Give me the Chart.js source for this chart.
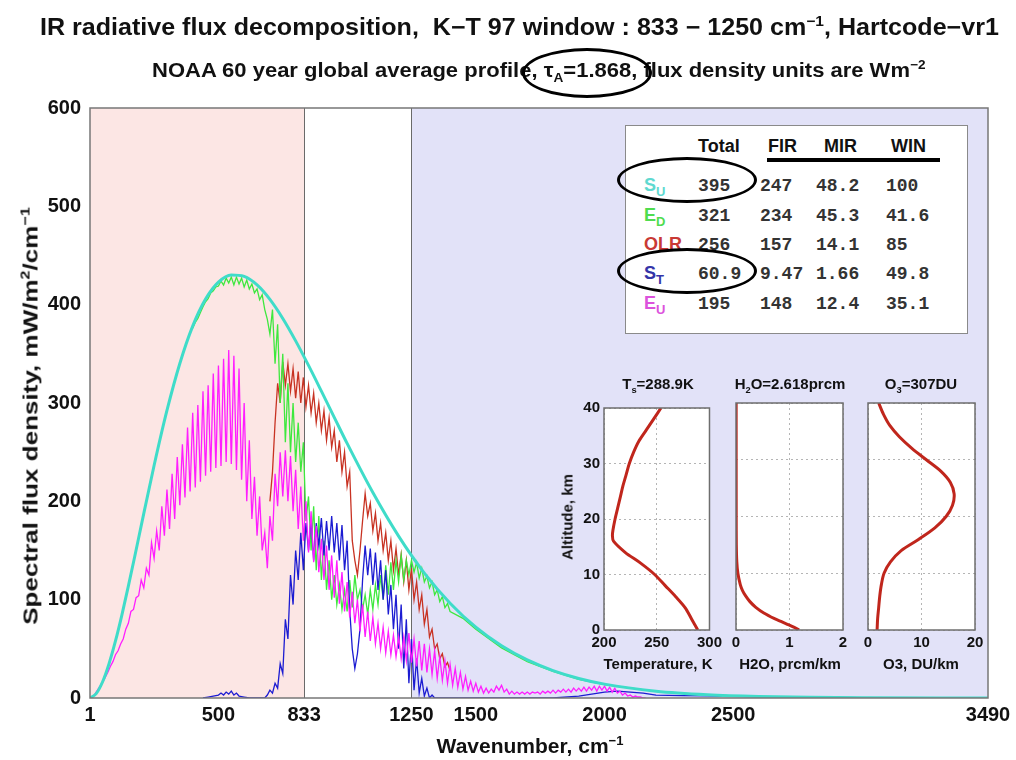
<!DOCTYPE html>
<html>
<head>
<meta charset="utf-8">
<title>IR radiative flux decomposition</title>
<script src="https://cdn.jsdelivr.net/npm/chart.js@4.4.1/dist/chart.umd.min.js"></script>
<style>
  body { margin: 0; background: #fff; }
  #wrap { position: relative; width: 1016px; height: 760px; overflow: hidden; font-family: "Liberation Sans", Arial, sans-serif; color: #111; }
  canvas { position: absolute; }
  .lbl { position: absolute; white-space: nowrap; font-weight: bold; line-height: 1; }
  .lbl sub, .lbl sup { font-size: 62%; line-height: 0; }
  .c { transform: translate(-50%, -50%); }
  #table { position: absolute; left: 625px; top: 125px; width: 341px; height: 207px; background: #fff; border: 1px solid #8a8a8a; }
  #table span { position: absolute; white-space: nowrap; line-height: 1; }
  .num { font-family: "Liberation Mono", "Courier New", monospace; font-size: 18px; font-weight: bold; color: #333; }
  .head { font-size: 18px; font-weight: bold; color: #111; }
  .oval { position: absolute; border: 3px solid #000; border-radius: 50%; box-sizing: border-box; }
</style>
</head>
<body>
<div id="wrap">
  <canvas id="main" width="1016" height="760" style="left:0;top:0"></canvas>

  <div class="lbl" style="left:40px;top:16px;font-size:23px;transform:scaleX(1.09);transform-origin:left center">IR radiative flux decomposition,&nbsp; K&minus;T 97 window : 833 &minus; 1250 cm<sup>&minus;1</sup>, Hartcode&minus;vr1</div>
  <div class="lbl" style="left:152px;top:60px;font-size:20px;transform:scaleX(1.1);transform-origin:left center">NOAA 60 year global average profile, &tau;<sub>A</sub>=1.868, flux density units are Wm<sup>&minus;2</sup></div>
  <div class="lbl" style="left:30px;top:416px;font-size:21px;transform:translate(-50%,-50%) rotate(-90deg) scaleX(1.24)">Spectral flux density, mW/m<sup>2</sup>/cm<sup>&minus;1</sup></div>
  <div class="lbl c" style="left:530px;top:745px;font-size:21px">Wavenumber, cm<sup>&minus;1</sup></div>

  <div id="table"></div>

  <canvas id="tempInset" width="162" height="259" style="left:564px;top:395px"></canvas>
  <canvas id="h2oInset" width="131" height="259" style="left:724px;top:395px"></canvas>
  <canvas id="o3Inset" width="135" height="259" style="left:856px;top:395px"></canvas>

  <div class="lbl c" style="left:658px;top:383px;font-size:15px">T<sub>s</sub>=288.9K</div>
  <div class="lbl c" style="left:790px;top:383px;font-size:15px">H<sub>2</sub>O=2.618prcm</div>
  <div class="lbl c" style="left:921px;top:383px;font-size:15px">O<sub>3</sub>=307DU</div>
  <div class="lbl c" style="left:658px;top:663px;font-size:15px">Temperature, K</div>
  <div class="lbl c" style="left:790px;top:663px;font-size:15px">H2O, prcm/km</div>
  <div class="lbl c" style="left:921px;top:663px;font-size:15px">O3, DU/km</div>
  <div class="lbl" style="left:567px;top:517px;font-size:15px;transform:translate(-50%,-50%) rotate(-90deg)">Altitude, km</div>

  <div class="oval" style="left:522px;top:48px;width:130px;height:50px"></div>
  <div class="oval" style="left:617px;top:157px;width:140px;height:46px"></div>
  <div class="oval" style="left:617px;top:248px;width:140px;height:46px"></div>
</div>

<script>
// Spectral grid, cm-1 (10 cm-1 step, 0 - 2600)
var waveGrid = [
  0, 10, 20, 30, 40, 50, 60, 70, 80, 90,
  100, 110, 120, 130, 140, 150, 160, 170, 180, 190,
  200, 210, 220, 230, 240, 250, 260, 270, 280, 290,
  300, 310, 320, 330, 340, 350, 360, 370, 380, 390,
  400, 410, 420, 430, 440, 450, 460, 470, 480, 490,
  500, 510, 520, 530, 540, 550, 560, 570, 580, 590,
  600, 610, 620, 630, 640, 650, 660, 670, 680, 690,
  700, 710, 720, 730, 740, 750, 760, 770, 780, 790,
  800, 810, 820, 830, 840, 850, 860, 870, 880, 890,
  900, 910, 920, 930, 940, 950, 960, 970, 980, 990,
  1000, 1010, 1020, 1030, 1040, 1050, 1060, 1070, 1080, 1090,
  1100, 1110, 1120, 1130, 1140, 1150, 1160, 1170, 1180, 1190,
  1200, 1210, 1220, 1230, 1240, 1250, 1260, 1270, 1280, 1290,
  1300, 1310, 1320, 1330, 1340, 1350, 1360, 1370, 1380, 1390,
  1400, 1410, 1420, 1430, 1440, 1450, 1460, 1470, 1480, 1490,
  1500, 1510, 1520, 1530, 1540, 1550, 1560, 1570, 1580, 1590,
  1600, 1610, 1620, 1630, 1640, 1650, 1660, 1670, 1680, 1690,
  1700, 1710, 1720, 1730, 1740, 1750, 1760, 1770, 1780, 1790,
  1800, 1810, 1820, 1830, 1840, 1850, 1860, 1870, 1880, 1890,
  1900, 1910, 1920, 1930, 1940, 1950, 1960, 1970, 1980, 1990,
  2000, 2010, 2020, 2030, 2040, 2050, 2060, 2070, 2080, 2090,
  2100, 2110, 2120, 2130, 2140, 2150, 2160, 2170, 2180, 2190,
  2200, 2210, 2220, 2230, 2240, 2250, 2260, 2270, 2280, 2290,
  2300, 2310, 2320, 2330, 2340, 2350, 2360, 2370, 2380, 2390,
  2400, 2410, 2420, 2430, 2440, 2450, 2460, 2470, 2480, 2490,
  2500, 2510, 2520, 2530, 2540, 2550, 2560, 2570, 2580, 2590,
  2600
];

// S_U : surface upward (smooth)
var suNu = [1, 25, 50, 75, 100, 125, 150, 175, 200, 250, 300, 350, 400, 450, 500, 550, 600, 650, 700, 750,
  800, 850, 900, 950, 1000, 1100, 1200, 1300, 1400, 1500, 1600, 1700, 1800, 1900, 2000, 2200, 2400, 2600,
  2800, 3000, 3490];
var suVal = [0, 4.4, 16.5, 34.9, 58.0, 84.6, 113.7, 144.2, 175.3, 236.4, 292.4, 340.2, 378.2, 405.7, 422.9,
  430.2, 428.7, 420.1, 405.4, 386.0, 363.2, 338.2, 312.0, 285.4, 258.9, 208.9, 164.6, 127.0, 96.4, 72.0,
  53.1, 38.7, 27.9, 19.9, 14.1, 6.95, 3.33, 1.56, 0.72, 0.33, 0.05];

// E_U : atmosphere upward, 0 - 2160 cm-1
var euVal = [
  0, 1, 4, 8, 12, 16, 21, 26, 32, 37,
  44, 48, 55, 60, 70, 76, 88, 90, 102, 104,
  120, 112, 132, 125, 158, 142, 170, 150, 195, 165,
  212, 172, 228, 182, 245, 196, 258, 204, 275, 210,
  290, 214, 298, 220, 312, 226, 318, 230, 330, 234,
  338, 236, 345, 240, 354, 238, 348, 232, 335, 222,
  300, 200, 262, 182, 225, 165, 205, 150, 168, 132,
  185, 160, 228, 195, 250, 205, 252, 200, 246, 190,
  232, 172, 215, 160, 200, 148, 190, 138, 175, 128,
  162, 120, 155, 110, 145, 102, 140, 96, 128, 88,
  118, 82, 108, 76, 100, 68, 95, 62, 88, 58,
  82, 55, 76, 50, 72, 46, 68, 44, 64, 42,
  62, 40, 62, 38, 66, 36, 60, 32, 58, 28,
  55, 26, 50, 24, 48, 20, 42, 18, 38, 15,
  34, 13, 30, 11, 26, 9, 22, 8, 17, 7,
  15, 6, 12, 5, 10, 5, 9, 6, 12, 8,
  13, 6, 9, 4, 7, 4, 6, 4, 6, 4,
  6, 4, 6, 5, 6, 4, 7, 5, 7, 5,
  8, 5, 8, 6, 9, 6, 9, 6, 10, 7,
  10, 7, 11, 7, 11, 8, 12, 7, 12, 8,
  12, 7, 11, 6, 10, 5, 7, 3, 5, 2,
  3, 1, 2, 1, 1, 0, 0
];

// OLR : 700 - 1400 cm-1 (below 700 it sits under E_U)
var olrVal = [
  200, 230, 280, 320, 300, 342, 318, 340, 312, 335,
  305, 332, 300, 326, 296, 318, 290, 310, 280, 300,
  272, 292, 262, 285, 255, 272, 240, 262, 230, 250,
  215, 230, 160, 140, 125, 150, 180, 208, 185, 198,
  170, 188, 160, 178, 150, 168, 140, 160, 130, 152,
  125, 146, 118, 140, 110, 132, 100, 118, 90, 105,
  75, 90, 62, 70, 50, 55, 40, 45, 32, 36,
  28
];

// E_D : atmosphere downward, 400 - 1400 cm-1 then smooth tail
var edVal = [
  376, 382, 386, 392, 398, 403, 406, 412, 414, 418,
  419, 424, 420, 427, 422, 428, 420, 428, 421, 427,
  418, 425, 416, 421, 412, 416, 405, 410, 395, 385,
  370, 395, 340, 380, 300, 350, 260, 320, 250, 300,
  240, 280, 230, 260, 180, 205, 150, 195, 130, 185,
  120, 160, 110, 140, 100, 125, 95, 115, 90, 110,
  88, 120, 92, 125, 100, 110, 90, 105, 85, 110,
  90, 115, 95, 125, 100, 135, 105, 138, 110, 140,
  118, 145, 120, 140, 125, 140, 128, 138, 122, 132,
  118, 124, 112, 118, 105, 110, 98, 103, 92, 96,
  88
];
var edTailNu = [1450, 1500, 1600, 1700, 1800, 1900, 2000, 2200, 2400, 2600];
var edTailVal = [81, 70, 51, 37, 27, 19, 13.5, 6.7, 3.2, 1.5];

// S_T : surface transmitted to space
var stBumpNu = [440, 460, 480, 500, 510, 520, 530, 540, 550, 560, 570, 580, 600, 620];
var stBumpVal = [0, 1, 2, 3, 5, 3, 6, 4, 7, 3, 5, 2, 1, 0];
var stMainVal = [
  0, 3,
  8, 5, 15, 10, 35, 25, 80, 60, 125, 95,
  150, 120, 168, 130, 178, 150, 182, 140, 178, 155,
  183, 145, 180, 150, 185, 148, 178, 140, 176, 130,
  160, 90, 50, 30, 45, 70, 120, 155, 125, 152,
  115, 148, 110, 140, 100, 130, 85, 115, 70, 105,
  50, 95, 30, 80, 15, 60, 8, 40, 5, 20,
  2, 10, 0, 3, 0
];
var stTailNu = [1800, 1900, 1950, 2000, 2050, 2100, 2150, 2200, 2300, 2400, 2500, 2600, 2800, 3000, 3490];
var stTailVal = [0, 2, 4, 6, 7, 6, 5, 3, 2.5, 2.2, 1.8, 1.3, 0.6, 0.3, 0.03];

var xTicks = [1, 500, 833, 1250, 1500, 2000, 2500, 3490];
var windowLo = 833, windowHi = 1250;

// Flux table (W m-2)
var rowNames = ['S', 'E', 'OLR', 'S', 'E'];
var rowSubs = ['U', 'D', '', 'T', 'U'];
var rowColors = ['#5fd9d0', '#4fdc4f', '#c93a35', '#3434a8', '#dc52dc'];
var tableHeads = ['Total', 'FIR', 'MIR', 'WIN'];
var fluxTotal = [395, 321, 256, 60.9, 195];
var fluxFir = [247, 234, 157, 9.47, 148];
var fluxMir = [48.2, 45.3, 14.1, 1.66, 12.4];
var fluxWin = [100, 41.6, 85, 49.8, 35.1];

// Profiles
var altKm = [0, 2, 4, 6, 8, 10, 12, 14, 16, 17, 18, 20, 22, 24, 26, 28, 30, 32, 34, 36, 38, 40];
var tempK = [288.9, 283, 277, 268, 258, 248, 235, 220, 209, 208, 208.5, 210.5, 213, 215.5, 218, 221, 224,
  228, 233, 240, 247, 254];
var h2oAlt = [0, 0.5, 1, 1.5, 2, 3, 4, 5, 6, 7, 8, 10, 12, 15, 20, 30, 40];
var h2oVal = [1.18, 1.08, 0.96, 0.84, 0.72, 0.52, 0.37, 0.26, 0.18, 0.12, 0.08, 0.035, 0.015, 0.006, 0.004,
  0.003, 0.003];
var o3Alt = [0, 2, 4, 6, 8, 10, 12, 14, 16, 18, 20, 22, 24, 26, 28, 30, 32, 34, 36, 38, 40];
var o3Val = [1.7, 1.8, 2.0, 2.2, 2.5, 3.0, 4.2, 6.2, 9.5, 12.5, 14.6, 15.8, 16.1, 15.4, 13.6, 10.9, 8.2,
  5.9, 4.1, 2.9, 2.0];

function pairs(xs, ys) {
  return xs.map(function (x, i) { return { x: x, y: ys[i] }; });
}

var boldFont = function (size) { return { family: '"Liberation Sans", Arial, sans-serif', size: size, weight: 'bold' }; };

// Band shading, window edges and axes box
var regionPlugin = {
  id: 'regions',
  beforeDraw: function (chart) {
    var a = chart.chartArea, sx = chart.scales.x, c = chart.ctx;
    var x1 = sx.getPixelForValue(windowLo), x2 = sx.getPixelForValue(windowHi);
    var h = a.bottom - a.top;
    c.save();
    c.fillStyle = '#fce6e4';
    c.fillRect(a.left, a.top, x1 - a.left, h);
    c.fillStyle = '#ffffff';
    c.fillRect(x1, a.top, x2 - x1, h);
    c.fillStyle = '#e2e2f8';
    c.fillRect(x2, a.top, a.right - x2, h);
    c.strokeStyle = '#6a6a6a';
    c.lineWidth = 1;
    c.beginPath();
    c.moveTo(Math.round(x1) + 0.5, a.top); c.lineTo(Math.round(x1) + 0.5, a.bottom);
    c.moveTo(Math.round(x2) + 0.5, a.top); c.lineTo(Math.round(x2) + 0.5, a.bottom);
    c.stroke();
    c.restore();
  },
  afterDraw: function (chart) {
    var a = chart.chartArea, c = chart.ctx;
    c.save();
    c.strokeStyle = '#777';
    c.lineWidth = 1.5;
    c.strokeRect(a.left, a.top, a.right - a.left, a.bottom - a.top);
    c.restore();
  }
};

new Chart(document.getElementById('main'), {
  type: 'line',
  data: {
    datasets: [
      { label: 'S_U', data: pairs(suNu, suVal), borderColor: '#3fdcc9', borderWidth: 3, order: 0, cubicInterpolationMode: 'monotone' },
      { label: 'E_U', data: pairs(waveGrid.slice(0, 217), euVal), borderColor: '#ff1eff', borderWidth: 1.3, order: 1 },
      { label: 'S_T', data: pairs(stBumpNu.concat(waveGrid.slice(68, 135), stTailNu), stBumpVal.concat(stMainVal, stTailVal)), borderColor: '#1c1cd2', borderWidth: 1.3, order: 2 },
      { label: 'E_D', data: pairs(waveGrid.slice(40, 141).concat(edTailNu), edVal.concat(edTailVal)), borderColor: '#3ee83e', borderWidth: 1.3, order: 3 },
      { label: 'OLR', data: pairs(waveGrid.slice(70, 141), olrVal), borderColor: '#c83222', borderWidth: 1.3, order: 4 }
    ]
  },
  options: {
    responsive: false,
    animation: false,
    layout: { padding: { left: 0, right: 28, top: 108, bottom: 0 } },
    elements: { point: { radius: 0 }, line: { tension: 0 } },
    plugins: { legend: { display: false }, tooltip: { enabled: false } },
    scales: {
      x: {
        type: 'linear', min: 1, max: 3490,
        afterBuildTicks: function (s) { s.ticks = xTicks.map(function (v) { return { value: v }; }); },
        afterFit: function (s) { s.height = 62; },
        grid: { display: false, drawTicks: false },
        border: { display: false },
        ticks: { font: boldFont(20), color: '#111', padding: 5, maxRotation: 0, autoSkip: false,
          callback: function (v) { return String(v); } }
      },
      y: {
        min: 0, max: 600,
        afterFit: function (s) { s.width = 90; },
        grid: { display: false, drawTicks: false },
        border: { display: false },
        ticks: { stepSize: 100, font: boldFont(20), color: '#111', padding: 9 }
      }
    }
  },
  plugins: [regionPlugin]
});

// Table of band-integrated fluxes
var tableBox = document.getElementById('table');
var headLeft = [72, 142, 198, 265];
var colLeft = [72, 134, 190, 260];
var rowMid = [60, 90, 119, 148, 178];
var html = '';
tableHeads.forEach(function (h, i) {
  html += '<span class="head" style="left:' + headLeft[i] + 'px;top:11px">' + h + '</span>';
});
html += '<span style="left:141px;top:32px;width:173px;height:4px;background:#000"></span>';
var cols = [fluxTotal, fluxFir, fluxMir, fluxWin];
rowNames.forEach(function (name, r) {
  var sub = rowSubs[r] ? '<sub style="font-size:13px">' + rowSubs[r] + '</sub>' : '';
  html += '<span class="head" style="left:18px;top:' + (rowMid[r] - 10) + 'px;color:' + rowColors[r] + '">' + name + sub + '</span>';
  cols.forEach(function (col, c) {
    html += '<span class="num" style="left:' + colLeft[c] + 'px;top:' + (rowMid[r] - 9) + 'px">' + String(col[r]) + '</span>';
  });
});
tableBox.innerHTML = html;

// Profile insets
var insetFrame = {
  id: 'insetFrame',
  beforeDraw: function (chart) {
    var a = chart.chartArea, c = chart.ctx;
    c.save();
    c.fillStyle = '#fff';
    c.fillRect(a.left, a.top, a.right - a.left, a.bottom - a.top);
    c.restore();
  },
  afterDraw: function (chart) {
    var a = chart.chartArea, c = chart.ctx;
    c.save();
    c.strokeStyle = '#6e6e6e';
    c.lineWidth = 1.5;
    c.strokeRect(a.left, a.top, a.right - a.left, a.bottom - a.top);
    c.restore();
  }
};

function insetChart(id, xs, alts, xMin, xMax, xStep, showY, yWidth, padRight) {
  return new Chart(document.getElementById(id), {
    type: 'scatter',
    data: { datasets: [{ data: pairs(xs, alts), showLine: true, borderColor: '#c0261c', borderWidth: 3, pointRadius: 0, tension: 0.3 }] },
    options: {
      responsive: false,
      animation: false,
      layout: { padding: { top: 8, right: padRight, left: 0, bottom: 0 } },
      plugins: { legend: { display: false }, tooltip: { enabled: false } },
      scales: {
        x: {
          min: xMin, max: xMax,
          afterFit: function (s) { s.height = 24; },
          grid: { color: '#b5b5b5', drawTicks: false },
          border: { display: false, dash: [2, 3] },
          ticks: { stepSize: xStep, font: boldFont(15), color: '#111', padding: 4, maxRotation: 0 }
        },
        y: {
          min: 0, max: 40,
          afterFit: function (s) { s.width = yWidth; },
          grid: { color: '#b5b5b5', drawTicks: false },
          border: { display: false, dash: [2, 3] },
          ticks: { display: showY, stepSize: 10, font: boldFont(15), color: '#111', padding: 4 }
        }
      }
    },
    plugins: [insetFrame]
  });
}

insetChart('tempInset', tempK, altKm, 200, 300, 50, true, 40, 14);
insetChart('h2oInset', h2oVal, h2oAlt, 0, 2, 1, false, 12, 12);
insetChart('o3Inset', o3Val, o3Alt, 0, 20, 10, false, 12, 16);
</script>
</body>
</html>
